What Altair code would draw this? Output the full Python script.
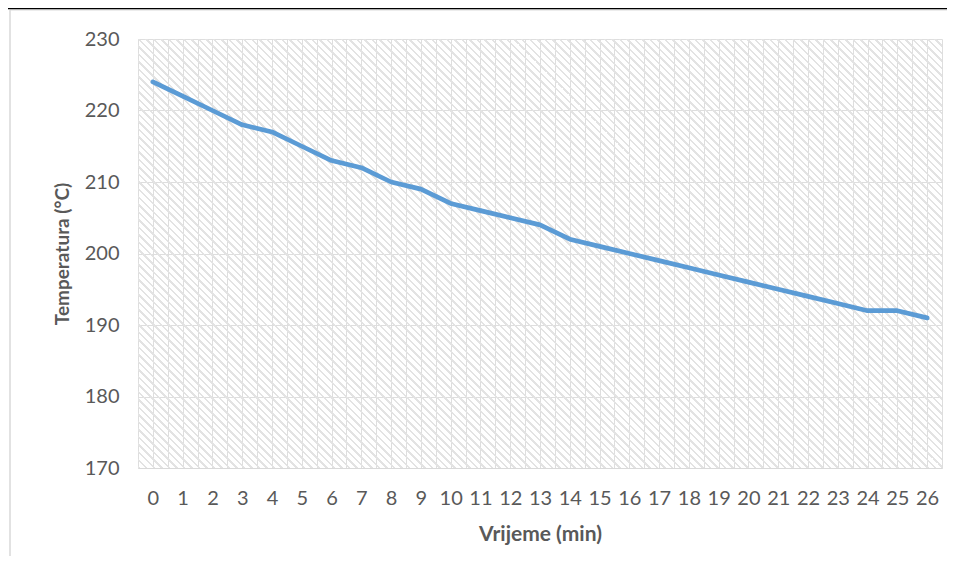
import altair as alt
import pandas as pd

# Data
times = [0, 1, 2, 3, 4, 5, 6, 7, 8, 9, 10, 11, 12, 13, 14, 15, 16, 17, 18, 19, 20, 21, 22, 23, 24, 25, 26]
temps = [224, 222, 220, 218, 217, 215, 213, 212, 210, 209, 207, 206, 205, 204, 202,
         201, 200, 199, 198, 197, 196, 195, 194, 193, 192, 192, 191]
y_ticks = [170, 180, 190, 200, 210, 220, 230]
x_title = "Vrijeme (min)"
y_title = "Temperatura (°C)"

df = pd.DataFrame({"t": times, "temp": temps})

W, H = 804, 429
FONT = "Lato"
TXT = "#595959"
GRID = "#dedede"
LINE = "#5B9BD5"

x_domain = [times[0] - 0.5, times[-1] + 0.5]
grid_vals = [times[0] - 0.5 + 0.5 * k for k in range(2 * len(times) + 1)]

# diagonal hatch via hard-stop gradient on a square rect (clipped to plot)
side = W
n_periods = 214
frac = 0.33
HATCH = "#e3e3e3"
stops = []
for k in range(n_periods):
    a = k / n_periods
    b = (k + frac) / n_periods
    c = (k + 1) / n_periods
    stops += [
        alt.GradientStop(offset=a, color=HATCH),
        alt.GradientStop(offset=b, color=HATCH),
        alt.GradientStop(offset=b, color="rgba(255,255,255,0)"),
        alt.GradientStop(offset=c, color="rgba(255,255,255,0)"),
    ]

one = alt.Data(values=[{"a": 1}])

hatch = alt.Chart(one).mark_rect(
    clip=True,
    fill=alt.Gradient(gradient="linear", stops=stops, x1=0, y1=1, x2=1, y2=0),
).encode(
    x=alt.value(0), x2=alt.value(W), y=alt.value(H - side), y2=alt.value(H)
)

xscale = alt.Scale(domain=x_domain, nice=False, zero=False)

grid_layer = alt.Chart(df).mark_point(opacity=0).encode(
    x=alt.X("t:Q", scale=xscale,
            axis=alt.Axis(orient="top", values=grid_vals, grid=True, gridColor=GRID,
                          gridWidth=1, labels=False, ticks=False, domain=False,
                          title=None)),
    y=alt.value(0),
)

line = alt.Chart(df).mark_line(
    color=LINE, strokeWidth=4.7, strokeCap="round", strokeJoin="round"
).encode(
    x=alt.X("t:Q", scale=xscale,
            axis=alt.Axis(values=times, format="d", grid=False, ticks=False,
                          domain=True, domainColor="#d9d9d9", domainWidth=1.2,
                          labelFont=FONT, labelFontSize=20, labelColor=TXT,
                          labelPadding=20, labelFlush=False,
                          title=x_title, titleFont=FONT, titleFontSize=21,
                          titleFontWeight="bold", titleColor=TXT, titlePadding=15)),
    y=alt.Y("temp:Q", scale=alt.Scale(domain=[y_ticks[0], y_ticks[-1]], nice=False, zero=False),
            axis=alt.Axis(values=y_ticks, grid=True, gridColor=GRID, ticks=False,
                          domain=False, labelFont=FONT, labelFontSize=20,
                          labelColor=TXT, labelPadding=19,
                          title=y_title, titleFont=FONT, titleFontSize=19,
                          titleFontWeight="bold", titleColor=TXT, titlePadding=12)),
)

frame_v = alt.Chart(one).mark_rule(color="#d9d9d9", strokeWidth=1.5).encode(
    x=alt.value(-128), y=alt.value(-29), y2=alt.value(620)
)
frame_h = alt.Chart(one).mark_rule(color="#d9d9d9", strokeWidth=1.2).encode(
    x=alt.value(-128), x2=alt.value(830), y=alt.value(-29)
)
top_black = alt.Chart(one).mark_rule(color="#000000", strokeWidth=1.2).encode(
    x=alt.value(-140), x2=alt.value(830), y=alt.value(-30.4)
)

chart = alt.layer(hatch, grid_layer, line, frame_v, frame_h, top_black).resolve_axis(
    x="independent"
).properties(
    width=W, height=H,
    autosize=alt.AutoSizeParams(type="none"),
    padding={"left": 130, "top": 31, "right": 5, "bottom": 88},
    background="white",
).configure_view(strokeWidth=0)

chart.save("out.html", embed_options={"renderer": "svg", "actions": False})
